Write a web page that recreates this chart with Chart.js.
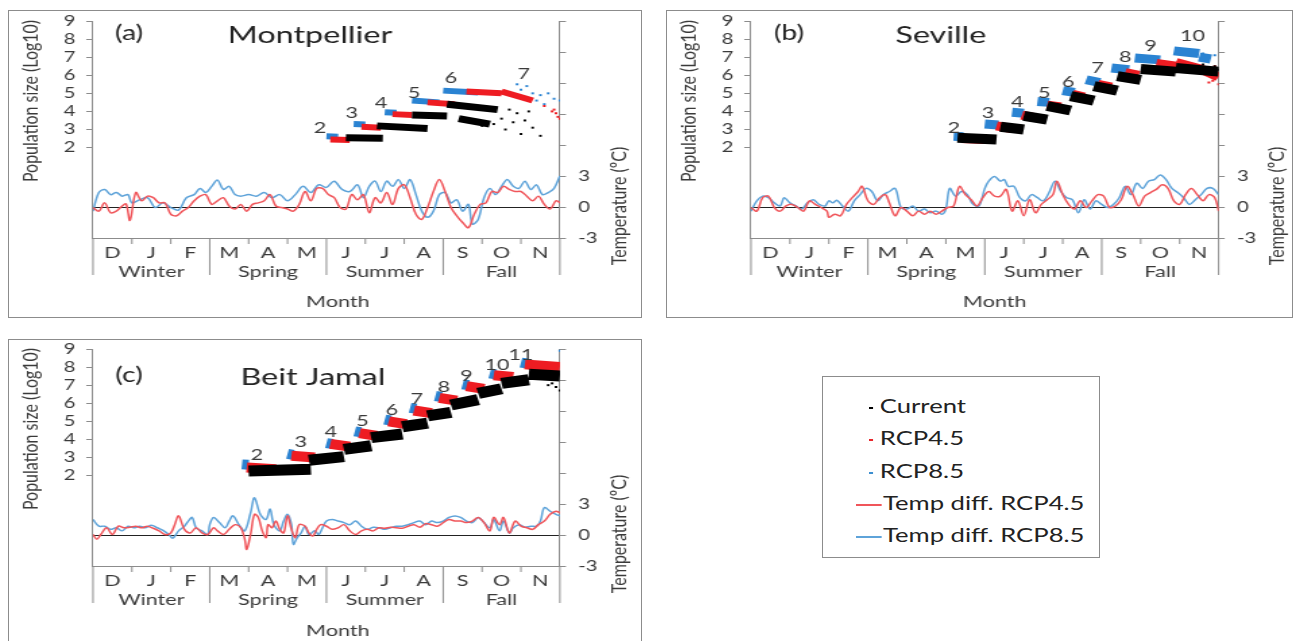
<!DOCTYPE html>
<html>
<head>
<meta charset="utf-8">
<script src="https://cdn.jsdelivr.net/npm/chart.js@4.4.1/dist/chart.umd.min.js"></script>
<style>
  body { margin: 0; background: #fff; width: 1301px; height: 641px; overflow: hidden; position: relative; font-family: Lato, sans-serif; }
  .box { position: absolute; border: 1px solid #8c8c8c; box-sizing: border-box; }
  canvas { position: absolute; }
  #legend { position: absolute; left: 822px; top: 376px; width: 278px; height: 182px; border: 1px solid #8c8c8c; box-sizing: border-box; }
  .item { position: absolute; font-size: 19px; line-height: 23px; color: #222; white-space: nowrap; transform: scaleX(1.35); transform-origin: left center; }
  .dash { display: inline-block; width: 3px; height: 2px; vertical-align: middle; margin-right: 5px; }
  .ln { display: inline-block; width: 18.5px; height: 1.5px; vertical-align: middle; margin-right: 1.5px; }
</style>
</head>
<body>
<div class="box" style="left:8px;top:10px;width:634px;height:308px"></div>
<canvas id="chartA"></canvas>
<div class="box" style="left:666px;top:10px;width:627px;height:308px"></div>
<canvas id="chartB"></canvas>
<div class="box" style="left:8px;top:339px;width:634px;height:310px"></div>
<canvas id="chartC"></canvas>

<div id="legend">
  <div class="item" style="left:46px;top:17px"><span class="dash" style="background:#000"></span>Current</div>
  <div class="item" style="left:46px;top:49px"><span class="dash" style="background:#e8262b"></span>RCP4.5</div>
  <div class="item" style="left:46px;top:82px"><span class="dash" style="background:#3d8fd0"></span>RCP8.5</div>
  <div class="item" style="left:33px;top:114px"><span class="ln" style="background:#f0555a"></span>Temp diff. RCP4.5</div>
  <div class="item" style="left:33px;top:146px"><span class="ln" style="background:#5ea3d9"></span>Temp diff. RCP8.5</div>
</div>

<script>
'use strict';

// the source figure is stretched sideways, so each canvas is drawn narrow and widened by CSS
let stretch = 1.35;

// ******* AXIS LABELS *******
let monthLabels = ['D', 'J', 'F', 'M', 'A', 'M', 'J', 'J', 'A', 'S', 'O', 'N'];
let seasonLabels = ['Winter', 'Spring', 'Summer', 'Fall'];
let popTickLabels = [2, 3, 4, 5, 6, 7, 8, 9];
let tempTickLabels = [-3, 0, 3];

// ******* MONTPELLIER *******
// bands: [month start, log10 pop, month end, log10 pop]
let montCurrent = [[6.5, 2.55, 7.45, 2.52], [7.3, 3.2, 8.6, 3.05], [8.2, 3.8, 9.1, 3.75], [9.1, 4.4, 10.4, 4.1], [9.4, 3.6, 10.2, 3.3]];
let mont45 = [[6.1, 2.45, 6.6, 2.42], [6.9, 3.15, 7.4, 3.1], [7.7, 3.85, 8.2, 3.8], [8.6, 4.5, 9.3, 4.4], [9.6, 5.1, 10.5, 5.0], [10.5, 5.1, 11.3, 4.6]];
let mont85 = [[6.0, 2.62, 6.3, 2.6], [6.7, 3.3, 7.0, 3.28], [7.5, 3.95, 7.8, 3.92], [8.2, 4.6, 8.9, 4.5], [9.0, 5.15, 9.9, 5.05]];
let montCurrentDots = [[10.0, 3.2], [10.3, 3.3], [10.5, 3.6], [10.6, 3.0], [10.8, 3.4], [10.9, 3.9], [11.0, 2.75], [11.1, 3.5], [11.2, 4.0], [11.3, 3.1], [11.5, 2.65], [10.7, 4.1]];
let mont45Dots = [[11.8, 4.0], [11.85, 4.1], [11.9, 3.9], [11.95, 3.7], [12.0, 3.6], [11.6, 4.3]];
let mont85Dots = [[11.0, 5.2], [11.15, 5.4], [11.2, 4.7], [11.3, 5.0], [11.4, 4.6], [11.5, 4.9], [11.6, 4.4], [11.7, 5.0], [11.85, 4.7], [12.0, 4.6], [10.9, 5.5]];
let montGen = [['2', 5.83, 3.1], ['3', 6.65, 3.9], ['4', 7.4, 4.45], ['5', 8.25, 5.0], ['6', 9.2, 5.85], ['7', 11.07, 6.1]];
let montTemp45 = [[0, -0.05], [0.15, -0.4], [0.3, 0.4], [0.45, -0.55], [0.6, -0.4], [0.75, 0.1], [0.85, 0.3], [0.95, -1.3], [1.1, 1.4], [1.25, 0.6], [1.4, 1.05], [1.55, 0.9], [1.7, 0.4], [1.85, 0.4], [2.0, -0.7], [2.15, -0.85], [2.3, -0.4], [2.45, -0.05], [2.6, 0.6], [2.75, 1.05], [2.9, 1.2], [3.05, 0.25], [3.2, 0.6], [3.35, 0.9], [3.5, 0.1], [3.65, -0.2], [3.8, 0.25], [3.95, -0.4], [4.1, 0.25], [4.25, 0.4], [4.4, 0.6], [4.55, 1.2], [4.7, 0.1], [4.85, -0.05], [5.0, -0.2], [5.15, -0.4], [5.3, 0.25], [5.45, 1.5], [5.6, 0.6], [5.75, 1.8], [5.9, 1.8], [6.05, 1.2], [6.2, 0.9], [6.35, -0.05], [6.5, -0.2], [6.65, 1.2], [6.8, 0.7], [6.95, 1.2], [7.1, -0.55], [7.25, 0.9], [7.4, 0.4], [7.55, 1.4], [7.7, 0.25], [7.85, 1.8], [8.0, 2.15], [8.15, 0.9], [8.3, -0.7], [8.45, -1.2], [8.6, -0.05], [8.75, 1.5], [8.9, 2.65], [9.05, 1.5], [9.2, -0.05], [9.35, -0.85], [9.5, -1.5], [9.65, -2.0], [9.8, -0.7], [9.95, 0.25], [10.1, 0.4], [10.25, 1.5], [10.4, 1.4], [10.55, 2.0], [10.7, 1.7], [10.85, 1.5], [11.0, 1.5], [11.15, 1.05], [11.3, 0.6], [11.45, 1.05], [11.6, 0.25], [11.75, -0.2], [11.9, 0.6], [12.0, 0.4]];
let montTemp85 = [[0, -0.4], [0.15, 1.4], [0.3, 1.7], [0.45, 1.2], [0.6, 1.4], [0.75, 1.05], [0.9, 1.2], [1.0, 0.4], [1.2, 0.7], [1.4, 0.9], [1.6, -0.05], [1.8, 0.4], [2.0, -0.05], [2.2, -0.3], [2.4, 0.9], [2.6, 1.2], [2.75, 1.8], [2.9, 1.4], [3.05, 2.0], [3.2, 2.6], [3.35, 1.7], [3.5, 2.0], [3.65, 1.2], [3.8, 1.05], [4.0, 1.2], [4.2, 1.05], [4.4, 1.4], [4.6, 0.9], [4.8, 1.2], [5.0, 0.6], [5.2, 1.2], [5.4, 2.0], [5.6, 1.4], [5.8, 2.15], [6.0, 1.9], [6.2, 2.5], [6.4, 1.7], [6.6, 1.5], [6.8, 2.15], [6.95, 0.9], [7.1, 2.0], [7.25, 2.5], [7.4, 1.5], [7.55, 2.5], [7.7, 2.0], [7.85, 2.65], [8.0, 1.8], [8.15, 2.65], [8.3, 1.2], [8.45, -0.4], [8.6, -1.0], [8.75, -0.4], [8.9, 1.2], [9.05, 1.4], [9.2, 0.4], [9.35, 0.7], [9.5, -0.4], [9.65, 0.25], [9.75, -1.65], [9.9, -1.2], [10.05, 0.9], [10.2, 1.8], [10.35, 1.2], [10.5, 2.0], [10.65, 2.65], [10.8, 2.0], [10.95, 1.8], [11.1, 2.5], [11.25, 1.7], [11.4, 2.15], [11.55, 1.2], [11.7, 1.4], [11.85, 1.8], [12.0, 3.0]];

// ******* SEVILLE *******
let sevCurrent = [[5.3, 2.55, 6.3, 2.45], [6.4, 3.15, 7.0, 3.0], [7.0, 3.75, 7.6, 3.55], [7.6, 4.3, 8.2, 4.05], [8.2, 4.85, 8.8, 4.6], [8.8, 5.4, 9.4, 5.15], [9.4, 5.95, 10.0, 5.75], [10.0, 6.35, 10.9, 6.2], [10.9, 6.4, 12.0, 6.2]];
let sev45 = [[5.4, 2.5, 6.0, 2.45], [6.3, 3.2, 6.7, 3.05], [6.95, 3.8, 7.3, 3.65], [7.6, 4.35, 7.95, 4.25], [8.25, 4.95, 8.55, 4.8], [8.9, 5.5, 9.25, 5.35], [9.6, 6.15, 9.95, 6.0], [10.4, 6.65, 10.9, 6.5], [10.9, 6.7, 11.6, 6.3], [11.6, 6.3, 12.0, 5.9]];
let sev85 = [[5.2, 2.62, 5.45, 2.6], [6.0, 3.3, 6.35, 3.25], [6.7, 3.95, 7.0, 3.9], [7.35, 4.55, 7.65, 4.5], [8.0, 5.15, 8.3, 5.05], [8.6, 5.75, 8.95, 5.6], [9.25, 6.4, 9.7, 6.3], [9.85, 6.95, 10.5, 6.85], [10.85, 7.35, 11.5, 7.2], [11.5, 7.0, 11.8, 6.9]];
let sevCurrentDots = [[11.6, 6.6], [11.9, 6.5], [12.0, 6.3]];
let sev45Dots = [[11.7, 6.2], [11.8, 5.9], [11.85, 5.7], [11.9, 6.5], [11.95, 6.1], [12.0, 5.5], [11.75, 5.6]];
let sev85Dots = [[11.9, 7.1], [11.6, 7.2]];
let sevGen = [['2', 5.21, 3.1], ['3', 6.08, 3.9], ['4', 6.83, 4.55], ['5', 7.53, 5.05], ['6', 8.14, 5.65], ['7', 8.89, 6.4], ['8', 9.6, 7.0], ['9', 10.25, 7.65], ['10', 11.33, 8.2]];
let sevTemp45 = [[0, -0.05], [0.15, -0.4], [0.3, 0.9], [0.45, 1.05], [0.6, -0.05], [0.75, -0.4], [0.9, 0.1], [1.05, 0.25], [1.2, -0.05], [1.35, -0.4], [1.5, 0.6], [1.65, 0.25], [1.8, -0.05], [1.95, -0.4], [2.0, -1.0], [2.15, -0.7], [2.3, -0.85], [2.45, 0.25], [2.6, 0.9], [2.75, 1.5], [2.85, 2.0], [3.0, 0.6], [3.15, 0.25], [3.3, 0.9], [3.45, 1.2], [3.55, 0.4], [3.7, -0.85], [3.85, -0.05], [4.0, -0.4], [4.15, -0.85], [4.3, -0.4], [4.45, -0.7], [4.6, -0.4], [4.75, -0.7], [4.9, -0.4], [5.05, -0.05], [5.2, 0.1], [5.35, 2.0], [5.5, 1.2], [5.65, 0.7], [5.8, 0.1], [5.95, 0.9], [6.1, 1.5], [6.25, 1.05], [6.4, 1.05], [6.55, 1.7], [6.7, -0.4], [6.85, 0.6], [7.0, -0.85], [7.15, 0.7], [7.3, -0.55], [7.45, 0.25], [7.6, 0.7], [7.75, 1.2], [7.85, 2.5], [8.0, 1.2], [8.15, 0.25], [8.3, -0.2], [8.45, 0.6], [8.6, -0.05], [8.75, 0.6], [8.9, 1.2], [9.05, 1.05], [9.2, -0.05], [9.35, 0.1], [9.5, 0.7], [9.65, 2.0], [9.8, 1.2], [9.95, 0.1], [10.1, 1.05], [10.25, 1.4], [10.4, 1.7], [10.55, 2.15], [10.7, 1.8], [10.85, 0.6], [11.0, 0.25], [11.15, 1.2], [11.3, 1.8], [11.45, 1.2], [11.6, 0.6], [11.75, 1.2], [11.9, 0.9], [12.0, -0.4]];
let sevTemp85 = [[0, -0.4], [0.15, 0.6], [0.3, 1.05], [0.45, 0.9], [0.6, 0.4], [0.75, 0.1], [0.85, 0.9], [1.0, 0.4], [1.15, 0.1], [1.3, -0.2], [1.45, 0.4], [1.6, 0.7], [1.75, 0.25], [1.9, 0.1], [2.0, 0.6], [2.1, 0.4], [2.2, 0.65], [2.35, 0.1], [2.5, -0.4], [2.65, 0.6], [2.8, 1.2], [2.95, 1.8], [3.1, 1.5], [3.25, 0.6], [3.4, 1.2], [3.55, 1.5], [3.7, 1.8], [3.85, -0.05], [4.0, -0.2], [4.15, 0.1], [4.3, -0.4], [4.45, -0.2], [4.6, -0.55], [4.75, -0.4], [4.9, -0.7], [5.0, -0.2], [5.1, 1.8], [5.25, 1.05], [5.4, 1.5], [5.55, 1.2], [5.7, 0.25], [5.85, 0.1], [6.0, 1.8], [6.1, 2.5], [6.25, 2.95], [6.4, 2.5], [6.5, 2.65], [6.6, 2.0], [6.75, 2.0], [6.9, 0.9], [7.05, 0.6], [7.2, 1.2], [7.35, 0.9], [7.5, 0.6], [7.65, 1.4], [7.8, 2.5], [7.95, 1.5], [8.1, 0.9], [8.25, 0.7], [8.4, -0.55], [8.55, 0.7], [8.7, -0.2], [8.85, 0.6], [9.0, 0.25], [9.15, -0.05], [9.3, 0.25], [9.45, 0.9], [9.6, 2.0], [9.75, 1.2], [9.9, 2.3], [10.05, 1.8], [10.2, 2.5], [10.35, 2.65], [10.5, 3.1], [10.65, 2.65], [10.8, 1.8], [10.95, 1.4], [11.1, 0.9], [11.25, 0.25], [11.4, 0.7], [11.55, 1.2], [11.7, 1.8], [11.85, 1.8], [12.0, 1.2]];

// ******* BEIT JAMAL *******
let bjCurrent = [[4.0, 2.25, 5.6, 2.35], [5.55, 2.85, 6.45, 3.05], [6.45, 3.45, 7.15, 3.65], [7.15, 4.1, 7.95, 4.3], [7.95, 4.7, 8.6, 4.9], [8.6, 5.3, 9.2, 5.5], [9.2, 5.9, 9.9, 6.2], [9.9, 6.55, 10.5, 6.8], [10.5, 7.1, 11.2, 7.3], [11.2, 7.6, 12.0, 7.5]];
let bj45 = [[3.95, 2.45, 4.7, 2.35], [5.1, 3.1, 5.7, 3.0], [6.1, 3.75, 6.6, 3.6], [6.85, 4.35, 7.3, 4.2], [7.6, 5.0, 8.05, 4.85], [8.25, 5.6, 8.7, 5.45], [8.9, 6.3, 9.35, 6.15], [9.6, 6.95, 10.05, 6.8], [10.3, 7.55, 10.8, 7.45], [11.1, 8.15, 12.0, 8.0]];
let bj85 = [[3.83, 2.62, 4.0, 2.6], [5.0, 3.2, 5.15, 3.15], [6.0, 3.8, 6.15, 3.75], [6.73, 4.45, 6.88, 4.4], [7.5, 5.1, 7.65, 5.05], [8.15, 5.75, 8.3, 5.7], [8.8, 6.4, 8.95, 6.35], [9.5, 7.05, 9.65, 7.0], [10.2, 7.65, 10.35, 7.6], [11.0, 8.25, 11.15, 8.2]];
let bjCurrentDots = [[11.9, 6.9], [12.0, 6.7], [11.7, 7.0], [11.8, 7.1]];
let bj45Dots = [];
let bj85Dots = [[12.0, 8.9]];
let bjGen = [['2', 4.21, 3.14], ['3', 5.34, 3.86], ['4', 6.11, 4.41], ['5', 6.93, 5.02], ['6', 7.68, 5.63], ['7', 8.32, 6.24], ['8', 9.02, 6.9], ['9', 9.6, 7.5], ['10', 10.38, 8.11], ['11', 11.0, 8.67]];
let bjTemp45 = [[0, 0.05], [0.1, -0.4], [0.2, 0.05], [0.35, 0.7], [0.5, 0.05], [0.65, 0.85], [0.8, 0.7], [0.95, 0.75], [1.1, 0.85], [1.25, 0.7], [1.4, 0.85], [1.55, 0.65], [1.7, 0.4], [1.85, 0.05], [2.0, 0.2], [2.1, 1.0], [2.2, 1.85], [2.35, 0.55], [2.5, 0.2], [2.65, 0.7], [2.8, 0.2], [2.95, 0.05], [3.1, 0.7], [3.2, 0.4], [3.35, 0.05], [3.5, 0.55], [3.65, 1.0], [3.8, 0.7], [3.9, -0.4], [3.95, -1.4], [4.05, 0.05], [4.15, 2.0], [4.25, 1.7], [4.35, 0.4], [4.45, -0.25], [4.5, 1.0], [4.6, 0.7], [4.7, 1.35], [4.8, 0.55], [4.9, 0.2], [5.0, 1.85], [5.1, 0.55], [5.2, -0.25], [5.3, 1.0], [5.45, 0.85], [5.55, 0.2], [5.65, -0.1], [5.75, 0.55], [5.85, 1.0], [6.0, 0.85], [6.15, 0.55], [6.3, 0.7], [6.45, 1.0], [6.6, 0.4], [6.75, 0.05], [6.9, 0.4], [7.05, 0.55], [7.2, 0.4], [7.35, 0.7], [7.5, 0.65], [7.65, 0.75], [7.8, 0.7], [7.95, 0.65], [8.1, 0.85], [8.25, 1.0], [8.4, 0.75], [8.55, 1.1], [8.7, 1.0], [8.85, 0.85], [9.0, 1.2], [9.15, 1.5], [9.3, 1.35], [9.45, 1.35], [9.6, 1.2], [9.75, 1.35], [9.9, 1.7], [10.05, 1.2], [10.2, 0.4], [10.3, 1.7], [10.45, 1.0], [10.55, 1.7], [10.7, 0.2], [10.85, 1.35], [11.0, 0.85], [11.15, 0.7], [11.3, 0.55], [11.45, 1.0], [11.6, 1.35], [11.75, 2.0], [11.9, 2.3], [12.0, 2.15]];
let bjTemp85 = [[0, 1.5], [0.15, 0.85], [0.3, 0.85], [0.45, 0.55], [0.6, 0.7], [0.75, 0.4], [0.9, 0.85], [1.05, 0.7], [1.2, 0.85], [1.35, 0.7], [1.5, 0.95], [1.65, 0.7], [1.8, 0.45], [1.95, 0.05], [2.05, -0.3], [2.2, 0.4], [2.35, 0.85], [2.45, 1.35], [2.55, 1.7], [2.65, 0.7], [2.8, 0.4], [2.95, 0.05], [3.0, 1.0], [3.1, 1.7], [3.25, 1.2], [3.4, 0.7], [3.5, 1.35], [3.6, 1.85], [3.75, 1.0], [3.9, 0.4], [4.05, 2.15], [4.15, 3.6], [4.3, 2.0], [4.45, 1.5], [4.55, 2.5], [4.65, 1.0], [4.8, 0.4], [4.9, 1.35], [5.0, 2.0], [5.1, 1.0], [5.15, -0.9], [5.25, -0.25], [5.35, 0.2], [5.45, 0.85], [5.55, 0.05], [5.7, 0.4], [5.8, 0.05], [5.9, 0.7], [6.0, 1.35], [6.15, 1.5], [6.3, 1.35], [6.45, 1.2], [6.6, 1.0], [6.75, 1.35], [6.9, 0.85], [7.05, 0.55], [7.2, 0.75], [7.35, 0.7], [7.5, 0.55], [7.65, 0.7], [7.8, 0.85], [7.95, 0.85], [8.1, 1.0], [8.25, 1.2], [8.4, 1.35], [8.55, 1.0], [8.7, 1.35], [8.85, 1.2], [9.0, 1.35], [9.15, 1.7], [9.3, 1.85], [9.45, 1.7], [9.6, 1.35], [9.75, 1.2], [9.9, 1.7], [10.05, 1.2], [10.2, 0.7], [10.3, 1.5], [10.45, 0.4], [10.55, 1.35], [10.7, 0.2], [10.8, 0.7], [10.95, 1.0], [11.1, 0.75], [11.25, 0.85], [11.4, 0.85], [11.5, 1.35], [11.6, 2.65], [11.75, 2.3], [11.9, 2.0], [12.0, 1.85]];

// ******* COLOURS *******
let black = '#000000';
let red = '#ee1c22';
let blue = '#2a83d2';
let redLine = '#f0555a';
let blueLine = '#5ea3d9';
let axisGrey = '#8c8c8c';
let textGrey = '#3a3a3a';

Chart.defaults.font.family = 'Lato, "Open Sans", sans-serif';
Chart.defaults.color = textGrey;

// ****** HELPERS ******
function bandPoints(bands) {
  let pts = [];
  for (let i = 0; i < bands.length; i++) {
    pts.push({ x: bands[i][0], y: bands[i][1] });
    pts.push({ x: bands[i][2], y: bands[i][3] });
    pts.push({ x: bands[i][2], y: null });
  }
  return pts;
}

function pairPoints(pairs) {
  return pairs.map(p => ({ x: p[0], y: p[1] }));
}

function bandSet(bands, colour, width) {
  return {
    type: 'line', data: bandPoints(bands), yAxisID: 'yP',
    borderColor: colour, borderWidth: width, borderCapStyle: 'butt',
    pointRadius: 0, spanGaps: false, tension: 0
  };
}

function dotSet(dots, colour) {
  return {
    type: 'scatter', data: pairPoints(dots), yAxisID: 'yP',
    backgroundColor: colour, borderWidth: 0, pointStyle: 'rect', pointRadius: 1.4
  };
}

function tempSet(pairs, colour) {
  return {
    type: 'line', data: pairPoints(pairs), yAxisID: 'yT',
    borderColor: colour, borderWidth: 1.5, pointRadius: 0, tension: 0.35
  };
}

// draws panel letter, site name, generation numbers, month separators and axis titles
let panelDecor = {
  id: 'panelDecor',
  afterDraw(chart, args, opts) {
    let ctx = chart.ctx;
    let xs = chart.scales.x;
    let yP = chart.scales.yP;
    let area = chart.chartArea;
    ctx.save();

    // month ticks and season separators below the axis
    ctx.strokeStyle = axisGrey;
    ctx.lineWidth = 1;
    for (let i = 0; i <= 12; i++) {
      let x = xs.getPixelForValue(i);
      let len = (i % 3 === 0) ? 37 : 6;
      ctx.beginPath();
      ctx.moveTo(x, area.bottom);
      ctx.lineTo(x, area.bottom + len);
      ctx.stroke();
    }

    // generation numbers
    ctx.fillStyle = textGrey;
    ctx.font = '16px Lato, sans-serif';
    ctx.textAlign = 'center';
    ctx.textBaseline = 'middle';
    opts.gens.forEach(g => {
      ctx.fillText(g[0], xs.getPixelForValue(g[1]), yP.getPixelForValue(g[2]));
    });

    // panel letter and site name
    ctx.fillStyle = '#222';
    ctx.font = '21px Lato, sans-serif';
    ctx.fillText(opts.letter, opts.letterPos[0] / stretch, opts.letterPos[1]);
    ctx.font = '24px Lato, sans-serif';
    ctx.fillText(opts.name, opts.namePos[0] / stretch, opts.namePos[1]);

    // axis titles
    ctx.fillStyle = textGrey;
    ctx.font = '16px Lato, sans-serif';
    ctx.fillText('Month', opts.monthPos[0] / stretch, opts.monthPos[1]);
    ctx.save();
    ctx.translate(23 / stretch, area.top + 80);
    ctx.rotate(-Math.PI / 2);
    ctx.fillText('Population size (Log10)', 0, 0);
    ctx.restore();
    ctx.save();
    ctx.translate(612 / stretch, area.bottom - 32);
    ctx.rotate(-Math.PI / 2);
    ctx.fillText('Temperature (\u00baC)', 0, 0);
    ctx.restore();

    ctx.restore();
  }
};

function makePanel(canvasId, box, site) {
  let canvas = document.getElementById(canvasId);
  canvas.width = Math.round(box.w / stretch);
  canvas.height = box.h;
  canvas.style.left = box.x + 'px';
  canvas.style.top = box.y + 'px';
  canvas.style.width = box.w + 'px';
  canvas.style.height = box.h + 'px';
  let innerW = canvas.width;

  return new Chart(canvas.getContext('2d'), {
    data: {
      datasets: [
        bandSet(site.current, black, site.bandWidth),
        dotSet(site.currentDots, black),
        bandSet(site.rcp45, red, site.bandWidth - 1),
        dotSet(site.rcp45Dots, red),
        bandSet(site.rcp85, blue, site.bandWidth - 1),
        dotSet(site.rcp85Dots, blue),
        tempSet(site.temp45, redLine),
        tempSet(site.temp85, blueLine)
      ]
    },
    options: {
      responsive: false,
      animation: false,
      layout: { padding: { top: box.top, left: 0, right: 0, bottom: 0 } },
      plugins: {
        legend: { display: false },
        tooltip: { enabled: false },
        panelDecor: { gens: site.gens, letter: site.letter, name: site.name, letterPos: site.letterPos, namePos: site.namePos, monthPos: site.monthPos }
      },
      scales: {
        x: {
          type: 'linear', min: 0, max: 12,
          afterBuildTicks: s => { s.ticks = monthLabels.map((m, i) => ({ value: i + 0.5 })); },
          afterFit: s => { s.height = box.h - box.bottom; s.paddingLeft = 0; s.paddingRight = 0; },
          ticks: {
            autoSkip: false, maxRotation: 0, padding: 5,
            font: { size: 16 }, color: textGrey,
            callback: (v, i) => [monthLabels[i], (i % 3 === 1) ? seasonLabels[(i - 1) / 3] : '']
          },
          grid: { drawOnChartArea: false, drawTicks: false },
          border: { display: true, color: axisGrey }
        },
        yP: {
          type: 'linear', position: 'left', min: -3, max: 9,
          afterBuildTicks: s => { s.ticks = []; for (let v = -3; v <= 9; v++) s.ticks.push({ value: v }); },
          afterFit: s => { s.width = box.left / stretch; s.paddingTop = 0; s.paddingBottom = 0; },
          ticks: {
            autoSkip: false, padding: 8, font: { size: 15 }, color: textGrey,
            callback: v => popTickLabels.includes(v) ? String(v) : ''
          },
          grid: {
            drawOnChartArea: false, tickLength: 5,
            tickColor: c => popTickLabels.includes(c.tick.value) ? axisGrey : 'rgba(0,0,0,0)'
          },
          border: { display: true, color: axisGrey }
        },
        yT: {
          type: 'linear', position: 'right', min: -3, max: 18,
          afterBuildTicks: s => { s.ticks = []; for (let v = -3; v <= 18; v += 3) s.ticks.push({ value: v }); },
          afterFit: s => { s.width = innerW - box.right / stretch; s.paddingTop = 0; s.paddingBottom = 0; },
          ticks: {
            autoSkip: false, padding: 9, font: { size: 15 }, color: textGrey,
            callback: v => tempTickLabels.includes(v) ? String(v) : ''
          },
          grid: {
            drawOnChartArea: true, tickLength: 4.5,
            color: c => c.tick.value === 0 ? '#222' : 'rgba(0,0,0,0)',
            tickColor: axisGrey
          },
          border: { display: true, color: axisGrey }
        }
      }
    },
    plugins: [panelDecor]
  });
}

// ****** EXECUTABLE CODE ******
makePanel('chartA', { x: 8, y: 10, w: 633, h: 307, left: 85, right: 552, top: 11, bottom: 228 }, {
  letter: '(a)', name: 'Montpellier', letterPos: [121, 23], namePos: [302, 25], monthPos: [330, 292],
  current: montCurrent, rcp45: mont45, rcp85: mont85,
  currentDots: montCurrentDots, rcp45Dots: mont45Dots, rcp85Dots: mont85Dots,
  gens: montGen, temp45: montTemp45, temp85: montTemp85, bandWidth: 7
});

makePanel('chartB', { x: 666, y: 10, w: 626, h: 307, left: 85, right: 553, top: 11, bottom: 228 }, {
  letter: '(b)', name: 'Seville', letterPos: [123, 23], namePos: [275, 25], monthPos: [329, 292],
  current: sevCurrent, rcp45: sev45, rcp85: sev85,
  currentDots: sevCurrentDots, rcp45Dots: sev45Dots, rcp85Dots: sev85Dots,
  gens: sevGen, temp45: sevTemp45, temp85: sevTemp85, bandWidth: 10
});

makePanel('chartC', { x: 8, y: 339, w: 633, h: 302, left: 85, right: 552, top: 10, bottom: 227 }, {
  letter: '(c)', name: 'Beit Jamal', letterPos: [121, 36], namePos: [305, 38], monthPos: [330, 292],
  current: bjCurrent, rcp45: bj45, rcp85: bj85,
  currentDots: bjCurrentDots, rcp45Dots: bj45Dots, rcp85Dots: bj85Dots,
  gens: bjGen, temp45: bjTemp45, temp85: bjTemp85, bandWidth: 11
});
</script>
</body>
</html>
